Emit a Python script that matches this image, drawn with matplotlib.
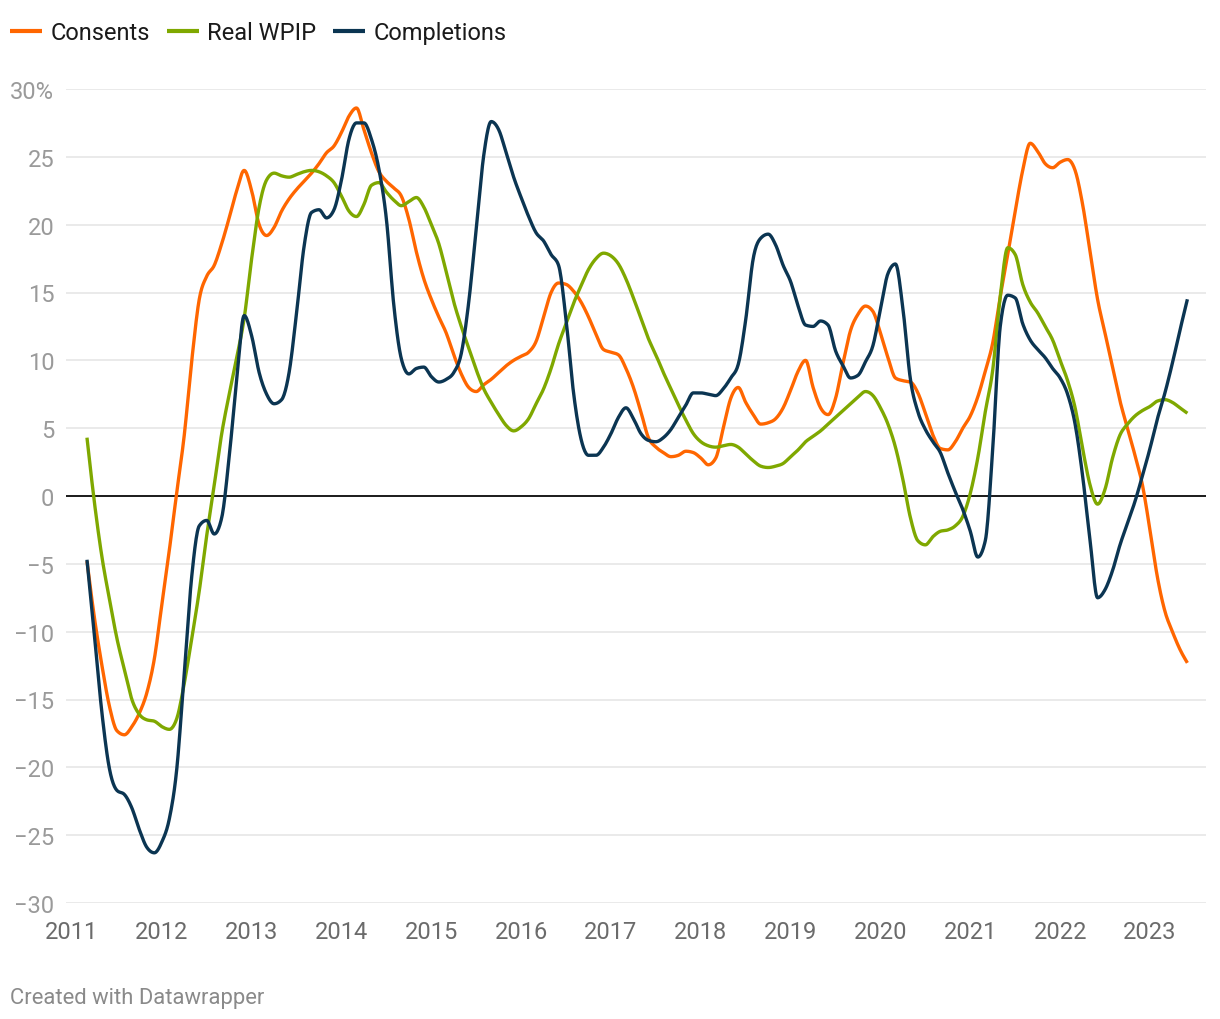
import numpy as np
import pandas as pd
import matplotlib.pyplot as plt

plt.rcParams['font.family'] = ['Roboto', 'DejaVu Sans']

# monthly data, Mar 2011 - Jun 2023 (annual % change)
months = pd.date_range('2011-03-01', '2023-06-01', freq='MS')

consents = [
  -4.8, -9.0, -12.5, -15.5, -17.3, -17.6, -17.0, -16.0, -14.5, -12.0,
  -8.0, -4.0, 0.3, 4.5, 10.0, 14.5, 16.2, 17.0, 18.6, 20.5, 22.5, 24.0,
  22.5, 20.0, 19.2, 19.8, 21.0, 21.9, 22.6, 23.2, 23.8, 24.5, 25.3, 25.8,
  26.8, 28.0, 28.6, 27.0, 25.3, 23.9, 23.2, 22.7, 22.1, 20.4, 18.0, 16.0,
  14.5, 13.2, 12.0, 10.4, 9.0, 8.0, 7.7, 8.2, 8.6, 9.1, 9.6, 10.0,
  10.3, 10.6, 11.4, 13.2, 15.0, 15.7, 15.6, 15.1, 14.3, 13.2, 11.9, 10.8,
  10.6, 10.4, 9.4, 8.0, 6.2, 4.3, 3.6, 3.2, 2.9, 3.0, 3.3, 3.2,
  2.8, 2.3, 2.8, 5.0, 7.2, 8.0, 6.9, 6.0, 5.3, 5.4, 5.7, 6.5,
  7.8, 9.2, 10.0, 8.0, 6.5, 6.0, 7.2, 9.8, 12.2, 13.4, 14.0, 13.6,
  12.0, 10.2, 8.7, 8.5, 8.4, 7.6, 6.1, 4.5, 3.5, 3.4, 4.0, 5.0,
  5.9, 7.3, 9.2, 11.3, 14.7, 17.8, 21.0, 24.0, 26.0, 25.4, 24.5, 24.2,
  24.6, 24.8, 24.0, 21.5, 18.0, 14.5, 12.0, 9.5, 7.0, 5.0, 3.0, 0.8,
  -2.5, -6.0, -8.5, -10.0, -11.3, -12.3,
]

real_wpip = [
  4.3, -0.5, -4.5, -7.6, -10.5, -12.8, -15.0, -16.1, -16.5, -16.6,
  -17.0, -17.2, -16.4, -13.8, -10.5, -7.0, -2.9, 0.8, 4.6, 7.5, 10.2, 13.1,
  17.5, 21.3, 23.3, 23.8, 23.6, 23.5, 23.7, 23.9, 24.0, 23.9, 23.6, 23.1,
  22.1, 21.0, 20.6, 21.5, 22.9, 23.1, 22.4, 21.8, 21.4, 21.7, 22.0, 21.3,
  20.0, 18.6, 16.5, 14.3, 12.5, 10.9, 9.3, 7.9, 6.9, 6.0, 5.2, 4.8,
  5.1, 5.7, 6.8, 7.9, 9.4, 11.2, 12.7, 14.2, 15.5, 16.7, 17.5, 17.9,
  17.7, 17.1, 16.0, 14.6, 13.1, 11.6, 10.4, 9.1, 7.9, 6.7, 5.6, 4.6,
  4.0, 3.7, 3.6, 3.7, 3.8, 3.6, 3.1, 2.6, 2.2, 2.1, 2.2, 2.4,
  2.9, 3.4, 4.0, 4.4, 4.8, 5.3, 5.8, 6.3, 6.8, 7.3, 7.7, 7.4,
  6.5, 5.3, 3.6, 1.2, -1.6, -3.3, -3.6, -3.0, -2.6, -2.5, -2.2, -1.5,
  0.2, 2.8, 6.2, 9.3, 14.7, 18.3, 17.8, 15.6, 14.3, 13.5, 12.5, 11.5,
  10.0, 8.5, 6.5, 3.5, 0.8, -0.6, 0.5, 2.8, 4.5, 5.3, 5.9, 6.3,
  6.6, 7.0, 7.1, 6.9, 6.5, 6.1,
]

completions = [
  -4.7, -10.3, -16.0, -20.1, -21.7, -22.0, -23.0, -24.6, -25.9, -26.3,
  -25.5, -23.8, -20.1, -13.0, -5.9, -2.2, -1.8, -2.8, -1.6, 2.9, 8.6, 13.3,
  11.8, 9.1, 7.5, 6.8, 7.1, 9.1, 13.5, 18.4, 20.9, 21.1, 20.5, 21.1,
  23.3, 26.3, 27.5, 27.5, 26.3, 24.1, 20.4, 14.0, 10.1, 9.0, 9.4, 9.5,
  8.8, 8.4, 8.6, 9.1, 10.5, 14.3, 19.7, 25.1, 27.6, 27.0, 25.3, 23.5,
  22.0, 20.6, 19.4, 18.8, 17.8, 17.0, 13.0, 7.6, 4.2, 3.0, 3.0, 3.6,
  4.6, 5.8, 6.5, 5.7, 4.6, 4.1, 4.0, 4.3, 4.9, 5.8, 6.7, 7.6,
  7.6, 7.5, 7.4, 7.9, 8.7, 9.7, 13.0, 17.5, 19.0, 19.3, 18.5, 17.0,
  15.8, 14.0, 12.6, 12.5, 12.9, 12.6, 10.7, 9.6, 8.7, 8.9, 9.9, 11.1,
  13.8, 16.4, 17.1, 13.8, 8.6, 6.2, 4.9, 4.0, 3.2, 1.7, 0.3, -1.0,
  -2.6, -4.5, -3.3, 3.5, 12.5, 14.8, 14.6, 12.7, 11.5, 10.8, 10.2, 9.4,
  8.7, 7.5, 5.3, 1.5, -3.3, -7.5, -6.9, -5.5, -3.6, -2.0, -0.4, 1.5,
  3.5, 5.7, 7.6, 9.8, 12.2, 14.5,
]

series = [
  ('Consents', consents, '#ff6600'),
  ('Real WPIP', real_wpip, '#7fa800'),
  ('Completions', completions, '#0b3552'),
]

years = list(range(2011, 2024))
y_ticks = list(range(-30, 31, 5))


def monotone_curve(x, y, steps=12):
  # monotone cubic (same idea as d3 curveMonotoneX)
  x = np.asarray(x, dtype=float)
  y = np.asarray(y, dtype=float)
  h = np.diff(x)
  s = np.diff(y) / h
  t = np.zeros(len(x))
  for i in range(1, len(x) - 1):
    p = (s[i - 1] * h[i] + s[i] * h[i - 1]) / (h[i - 1] + h[i])
    sg = (1 if s[i - 1] >= 0 else -1) + (1 if s[i] >= 0 else -1)
    t[i] = sg * min(abs(s[i - 1]), abs(s[i]), 0.5 * abs(p))
  t[0] = (3 * s[0] - t[1]) / 2
  t[-1] = (3 * s[-1] - t[-2]) / 2

  xs, ys = [], []
  u = np.linspace(0, 1, steps, endpoint=False)
  for i in range(len(x) - 1):
    h00 = 2 * u**3 - 3 * u**2 + 1
    h10 = u**3 - 2 * u**2 + u
    h01 = -2 * u**3 + 3 * u**2
    h11 = u**3 - u**2
    xs.append(x[i] + u * h[i])
    ys.append(h00 * y[i] + h10 * h[i] * t[i] + h01 * y[i + 1] + h11 * h[i] * t[i + 1])
  xs.append([x[-1]])
  ys.append([y[-1]])
  return np.concatenate(xs), np.concatenate(ys)


x_dec = months.year + (months.month - 1) / 12

W, H = 1220, 1020
fig = plt.figure(figsize=(W / 100, H / 100), dpi=100)
ax = fig.add_axes([66 / W, 1 - 904 / H, (1206 - 66) / W, (904 - 90) / H])

for yv in y_ticks:
  if yv == 0:
    continue
  ax.axhline(yv, color='#e4e4e4', lw=1.1, zorder=1)
ax.axhline(0, color='#1a1a1a', lw=1.4, zorder=2)

for name, vals, color in series:
  cx, cy = monotone_curve(x_dec, vals)
  ax.plot(cx, cy, color=color, lw=2.4, label=name, zorder=3,
          solid_capstyle='butt', solid_joinstyle='round')

ax.set_xlim(2011 + (66 - 72) / 89.83, 2011 + (1206 - 72) / 89.83)
ax.set_ylim(-30, 30)

ax.set_xticks(years)
ax.set_xticklabels([str(y) for y in years])
ax.set_yticks(y_ticks)
ax.set_yticklabels([
  '30%' if v == 30 else (f'\u2212{abs(v)}' if v < 0 else str(v)) for v in y_ticks
])
ax.tick_params(axis='x', length=0, pad=12.5, labelsize=17, labelcolor='#6b6b6b')
ax.tick_params(axis='y', length=0, pad=8.5, labelsize=17, labelcolor='#9a9a9a')
for sp in ax.spines.values():
  sp.set_visible(False)

fig.legend(
  loc='upper left',
  bbox_to_anchor=(10 / W, 1 - 22 / H),
  ncol=3,
  frameon=False,
  fontsize=17,
  handlelength=1.35,
  handletextpad=0.36,
  columnspacing=0.72,
  borderpad=0,
  borderaxespad=0,
  labelcolor='#1a1a1a',
)
for line in fig.legends[0].get_lines():
  line.set_linewidth(3)

fig.text(10 / W, 1 - 999 / H, 'Created with Datawrapper', ha='left', va='center',
         fontsize=15.8, color='#8a8a8a')

fig.savefig('out.png', dpi=100)
